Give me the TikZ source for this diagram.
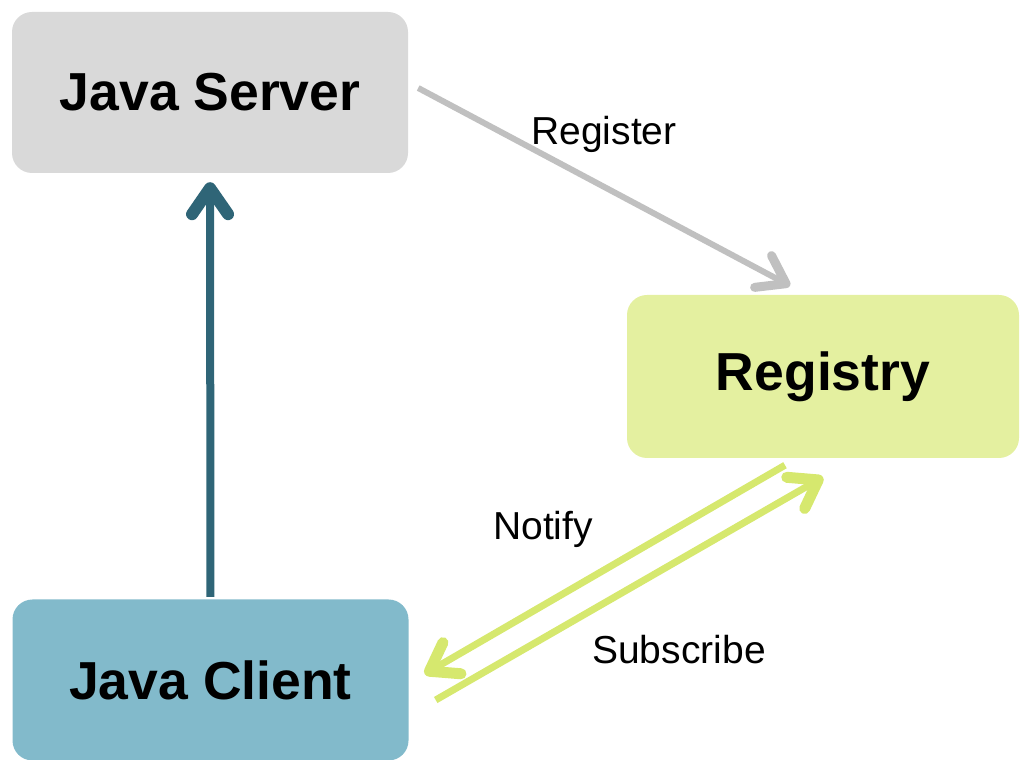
\documentclass[tikz,border=0pt]{standalone}
\usepackage{fontspec}
\setmainfont{Liberation Sans}
\usetikzlibrary{arrows.meta}
\definecolor{servergray}{HTML}{D9D9D9}
\definecolor{registrygreen}{HTML}{E4F0A0}
\definecolor{clientblue}{HTML}{82BACB}
\definecolor{callblue}{HTML}{2F6577}
\definecolor{reggray}{HTML}{C0C0C0}
\definecolor{notifygreen}{HTML}{D6E86E}
\begin{document}
\begin{tikzpicture}[x=1pt,y=1pt,
    box/.style={rounded corners=20pt, minimum width=396pt, minimum height=161pt,
      inner sep=0pt, font=\fontsize{53.5}{60}\selectfont\bfseries},
    link/.style={line width=7pt,
      -{Straight Barb[length=26pt,width=36pt,line width=11pt,round]}},
    lbl/.style={font=\fontsize{39}{46}\selectfont}]
  \useasboundingbox (0,0) rectangle (1020,760);
  \node[box, fill=servergray] (server) at (210,667.5) {Java Server};
  \node[box, fill=registrygreen, minimum width=392pt, minimum height=163pt]
    (registry) at (823,383.5) {Registry};
  \node[box, fill=clientblue] (client) at (210.5,80) {Java Client};
  \coordinate (regfrom) at ([shift={(10,4.5)}]server.east);
  \coordinate (regto) at ([shift={(-33,9)}]registry.north);
  \coordinate (notfrom) at ([shift={(-38,-7)}]registry.south);
  \coordinate (notto) at ([shift={(16,6)}]client.east);
  \coordinate (subfrom) at ([shift={(27,-20)}]client.east);
  \coordinate (subto) at ([shift={(0,-19)}]registry.south);
  \begin{scope}
    \draw[line width=8pt, callblue, shorten <=2.5pt, shorten >=9pt,
      -{Straight Barb[length=26pt,width=36pt,line width=12pt,round]}]
      (client.north) -- (server.south);
    \draw[link, line width=6pt, reggray,
      -{Straight Barb[length=26pt,width=36pt,line width=9pt,round]}] (regfrom) -- (regto);
    \draw[link, notifygreen] (notfrom) -- (notto);
    \draw[link, notifygreen] (subfrom) -- (subto);
  \end{scope}
  \node[lbl] (reglabel) at (604,626) {Register};
  \node[lbl] (notlabel) at (543,231) {Notify};
  \node[lbl] (sublabel) at (679,110) {Subscribe};
\end{tikzpicture}
\end{document}
